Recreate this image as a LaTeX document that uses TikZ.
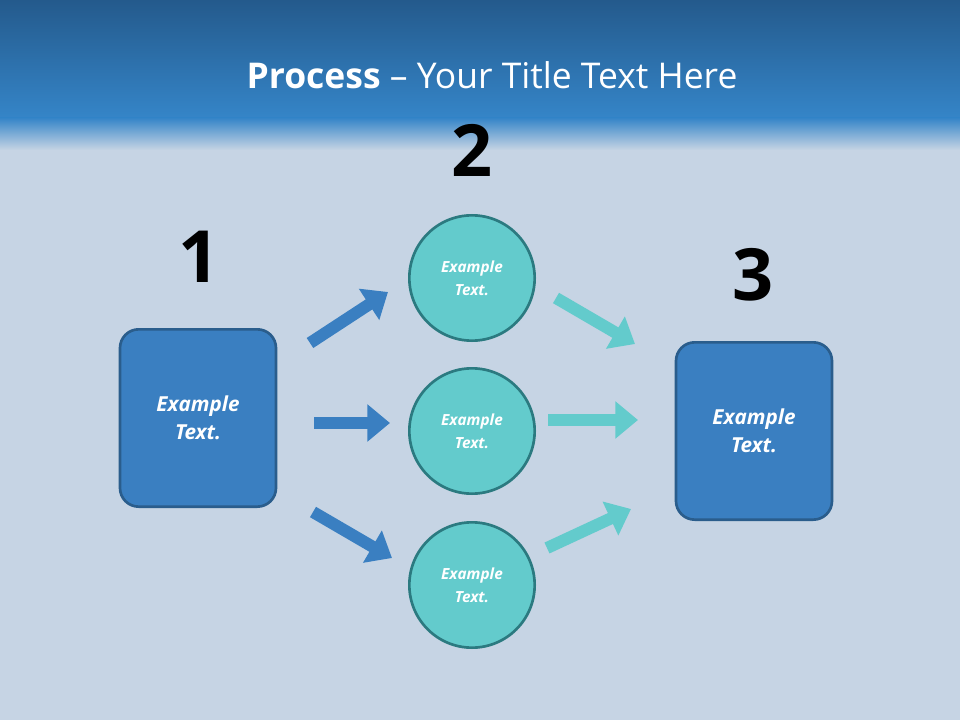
\documentclass[tikz,border=0pt]{standalone}
\usepackage{fontspec}
\setmainfont{Open Sans}
\usetikzlibrary{arrows.meta}
\definecolor{bluebox}{HTML}{3A7FC1}
\definecolor{blueline}{HTML}{2A5D8C}
\definecolor{teal}{HTML}{63CBCC}
\definecolor{tealline}{HTML}{2B7A80}
\definecolor{topdark}{HTML}{245A8C}
\definecolor{topmid}{HTML}{3585C8}
\definecolor{sky}{HTML}{C6D4E4}
\tikzset{
  boxst/.style={draw=blueline,line width=2pt,fill=bluebox,rounded corners=14pt,minimum width=117pt,minimum height=133pt,text=white,font=\bfseries\itshape\fontsize{15.5}{21}\selectfont,align=center},
  circst/.style={circle,draw=tealline,line width=2pt,fill=teal,minimum size=94pt,text=white,font=\bfseries\itshape\fontsize{11.5}{17}\selectfont,align=center},
  numst/.style={font=\bfseries\fontsize{54}{54}\selectfont,text=black},
  barrow/.style={draw=bluebox,line width=9pt,-{Triangle[length=17pt,width=27pt]}},
  tarrow/.style={draw=teal,line width=9pt,-{Triangle[length=17pt,width=27pt]}}
}
\begin{document}
\begin{tikzpicture}[x=0.75pt,y=-0.75pt]
\useasboundingbox (0,0) rectangle (960,720);
\fill[sky] (0,0) rectangle (960,720);
\shade[top color=topdark,bottom color=topmid] (0,0) rectangle (960,118);
\shade[top color=topmid,bottom color=sky] (0,118) rectangle (960,150);
\node[text=white,font=\fontsize{26.6}{30}\selectfont] (title) at (492,75) {\textbf{Process} -- Your Title Text Here};
\node[boxst] (b1) at (198,418) {Example\\Text.};
\node[boxst] (b3) at (754,431) {Example\\Text.};
\node[circst] (c1) at (472,278) {Example\\Text.};
\node[circst] (c2) at (472,431) {Example\\Text.};
\node[circst] (c3) at (472,585) {Example\\Text.};
\node[numst] (n1) at (199,257) {1};
\node[numst] (n2) at (472,150) {2};
\node[numst] (n3) at (753,275) {3};
\coordinate (a1s) at (310,343); \coordinate (a1e) at (388,292);
\coordinate (a2s) at (314,423); \coordinate (a2e) at (390,423);
\coordinate (a3s) at (313,512); \coordinate (a3e) at (392,558);
\coordinate (t1s) at (556,298); \coordinate (t1e) at (635,344);
\coordinate (t2s) at (548,420); \coordinate (t2e) at (638,420);
\coordinate (t3s) at (547,548); \coordinate (t3e) at (631,509);
\draw[barrow] (a1s) -- (a1e);
\draw[barrow] (a2s) -- (a2e);
\draw[barrow] (a3s) -- (a3e);
\draw[tarrow] (t1s) -- (t1e);
\draw[tarrow] (t2s) -- (t2e);
\draw[tarrow] (t3s) -- (t3e);
\end{tikzpicture}
\end{document}
